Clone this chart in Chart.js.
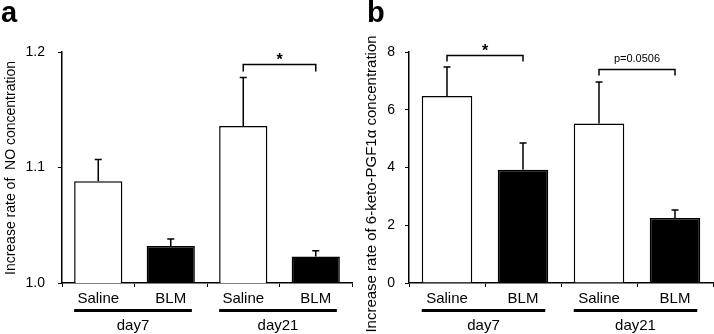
<!DOCTYPE html>
<html>
<head>
<meta charset="utf-8">
<script src="https://cdn.jsdelivr.net/npm/chart.js@4.4.1/dist/chart.umd.min.js"></script>
<style>
body { margin: 0; background: #fff; }
#wrap { position: relative; width: 714px; height: 334px; }
canvas { position: absolute; top: 0; }
</style>
</head>
<body>
<div id="wrap">
  <canvas id="chartA" width="360" height="334" style="left:0"></canvas>
  <canvas id="chartB" width="354" height="334" style="left:360px"></canvas>
</div>
<script>
var categories = ['Saline', 'BLM', 'Saline', 'BLM'];
var dayGroups = ['day7', 'day21'];
var barColors = ['#ffffff', '#000000', '#ffffff', '#000000'];

// panel a: NO
var noMean = [1.088, 1.032, 1.136, 1.023];
var noErr = [0.019, 0.006, 0.042, 0.005];
var noTicks = [1.0, 1.1, 1.2];

// panel b: 6-keto-PGF1a
var pgfMean = [6.48, 3.92, 5.52, 2.25];
var pgfErr = [1.0, 0.93, 1.44, 0.28];
var pgfTicks = [0, 2, 4, 6, 8];

var FONT = "'Liberation Sans', Arial, sans-serif";

var extras = {
    id: 'extras',
    afterDatasetsDraw: function (chart, args, opts) {
        var ctx = chart.ctx;
        var x = chart.scales.x, y = chart.scales.y;
        var bars = chart.getDatasetMeta(0).data;
        ctx.save();
        ctx.strokeStyle = '#000';
        ctx.fillStyle = '#000';

        // error bars (upper only)
        ctx.lineWidth = 1.5;
        opts.mean.forEach(function (m, i) {
            var px = x.getPixelForValue(i);
            var y0 = y.getPixelForValue(m);
            var y1 = y.getPixelForValue(m + opts.err[i]);
            ctx.beginPath();
            ctx.moveTo(px, y0);
            ctx.lineTo(px, y1);
            ctx.moveTo(px - 3.5, y1);
            ctx.lineTo(px + 3.5, y1);
            ctx.stroke();
        });

        // significance brackets
        ctx.lineWidth = 1.5;
        opts.brackets.forEach(function (b) {
            var xa = x.getPixelForValue(b.from);
            var xb = x.getPixelForValue(b.to);
            var yb = Math.round(y.getPixelForValue(b.value)) + 0.5;
            ctx.beginPath();
            ctx.moveTo(xa, yb + b.drop);
            ctx.lineTo(xa, yb);
            ctx.lineTo(xb, yb);
            ctx.lineTo(xb, yb + b.drop);
            ctx.stroke();
            ctx.font = b.font;
            ctx.textAlign = 'center';
            ctx.textBaseline = 'alphabetic';
            ctx.fillText(b.label, (xa + xb) / 2, yb - b.gap);
        });

        // day group underlines and labels
        ctx.textAlign = 'center';
        ctx.textBaseline = 'alphabetic';
        ctx.font = '15px ' + FONT;
        dayGroups.forEach(function (g, k) {
            var b1 = bars[k * 2], b2 = bars[k * 2 + 1];
            var left = b1.x - b1.width / 2;
            var right = b2.x + b2.width / 2 - 3;
            ctx.fillRect(left, 309, right - left, 3);
            ctx.fillText(g, (left + right) / 2, 330);
        });

        // y axis title
        ctx.save();
        ctx.translate(opts.titleX, opts.titleY);
        ctx.rotate(-Math.PI / 2);
        ctx.font = opts.titleSize + 'px ' + FONT;
        ctx.textAlign = 'center';
        ctx.textBaseline = 'middle';
        ctx.fillText(opts.title, 0, 0);
        ctx.restore();

        // panel letter
        ctx.font = 'bold 29px ' + FONT;
        ctx.textAlign = 'left';
        ctx.fillText(opts.letter, opts.letterX, 22);
        ctx.restore();
    }
};

function makeChart(id, mean, ticks, yWidth, padRight, labelPad, extraOpts) {
    return new Chart(document.getElementById(id), {
        type: 'bar',
        data: {
            labels: categories,
            datasets: [{
                data: mean,
                backgroundColor: barColors,
                borderColor: '#000',
                borderWidth: 1.5,
                borderSkipped: 'bottom',
                categoryPercentage: 1,
                barPercentage: 0.665
            }]
        },
        options: {
            responsive: false,
            animation: false,
            events: [],
            layout: { padding: { left: 0, top: 52, right: padRight, bottom: 0 } },
            scales: {
                x: {
                    afterFit: function (s) { s.height = 51; },
                    border: { display: true, color: '#000', width: 1.5 },
                    grid: { display: true, drawOnChartArea: false, tickLength: 4, color: '#000' },
                    ticks: { color: '#000', padding: 3, font: { family: FONT, size: 15 } }
                },
                y: {
                    min: ticks[0],
                    max: ticks[ticks.length - 1],
                    afterFit: function (s) { s.width = yWidth; },
                    afterBuildTicks: function (s) {
                        s.ticks = ticks.map(function (v) { return { value: v }; });
                    },
                    border: { display: true, color: '#000', width: 1.5 },
                    grid: { display: true, drawOnChartArea: false, tickLength: 4, color: '#000' },
                    ticks: {
                        color: '#000',
                        padding: labelPad,
                        font: { family: FONT, size: 14 },
                        callback: function (v) {
                            return ticks[0] === 1 ? Number(v).toFixed(1) : v;
                        }
                    }
                }
            },
            plugins: {
                legend: { display: false },
                tooltip: { enabled: false },
                extras: extraOpts
            }
        },
        plugins: [extras]
    });
}

makeChart('chartA', noMean, noTicks, 62, 8, 13, {
    mean: noMean,
    err: noErr,
    brackets: [{ from: 2, to: 3, value: 1.1896, drop: 7, label: '*', font: 'bold 16px ' + FONT, gap: 0 }],
    title: 'Increase rate of  NO concentration',
    titleX: 11, titleY: 168, titleSize: 14,
    letter: 'a', letterX: 1
});

makeChart('chartB', pgfMean, pgfTicks, 49, 1, 10, {
    mean: pgfMean,
    err: pgfErr,
    brackets: [
        { from: 0, to: 1, value: 7.9, drop: 6, label: '*', font: 'bold 16px ' + FONT, gap: 0 },
        { from: 2, to: 3, value: 7.41, drop: 6, label: 'p=0.0506', font: '11px ' + FONT, gap: 8 }
    ],
    title: 'Increase rate of 6-keto-PGF1α concentration',
    titleX: 12, titleY: 184, titleSize: 15,
    letter: 'b', letterX: 7
});
</script>
</body>
</html>
